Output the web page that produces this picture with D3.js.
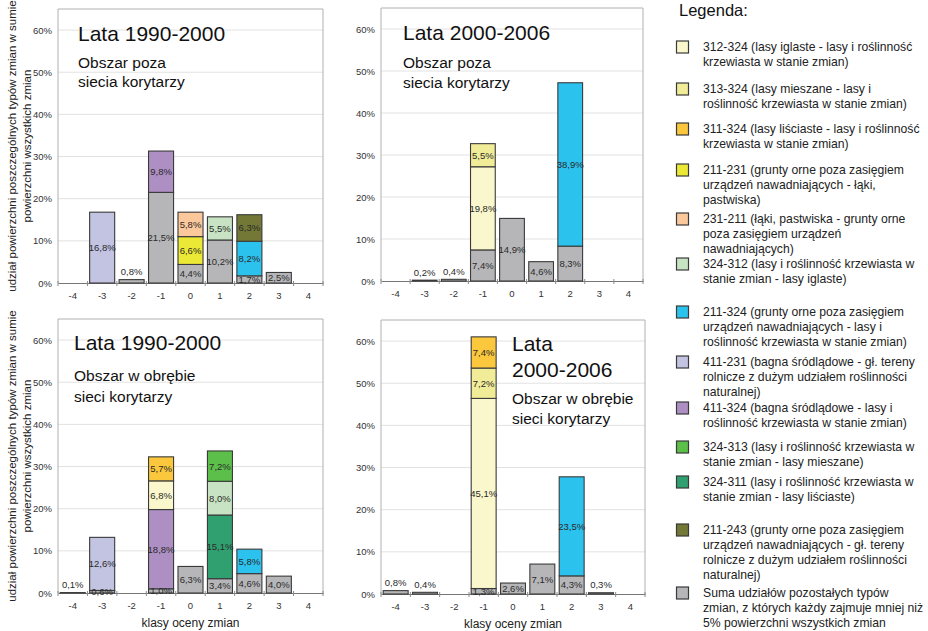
<!DOCTYPE html>
<html>
<head>
<meta charset="utf-8">
<script src="https://cdn.jsdelivr.net/npm/d3@7"></script>
<style>
  body { margin: 0; background: #fff; }
  svg { font-family: "Liberation Sans", Arial, sans-serif; display: block; }
</style>
</head>
<body>
<script>
const W = 928, H = 631;

// klasy oceny zmian
const classes = ["-4", "-3", "-2", "-1", "0", "1", "2", "3", "4"];
const yTicks = [0, 10, 20, 30, 40, 50, 60];

// typy zmian (kolejność legendy)
const seriesKeys = ["312-324", "313-324", "311-324", "211-231", "231-211", "324-312",
  "211-324", "411-231", "411-324", "324-313", "324-311", "211-243", "inne"];
const seriesColors = ["#faf7cc", "#f1ec98", "#fbc73c", "#ece836", "#fbc89c", "#c8e3c3",
  "#2cc2ee", "#c3c3e2", "#ae8fc4", "#5cbf4a", "#30a070", "#737836", "#b6b6b9"];
const legendLabels = [
  ["312-324  (lasy iglaste - lasy i roślinność", "krzewiasta w stanie zmian)"],
  ["313-324 (lasy mieszane - lasy i", "roślinność krzewiasta w stanie zmian)"],
  ["311-324 (lasy liściaste - lasy i roślinność", "krzewiasta w stanie zmian)"],
  ["211-231 (grunty orne poza zasięgiem", "urządzeń nawadniających - łąki,", "pastwiska)"],
  ["231-211 (łąki, pastwiska - grunty orne", "poza zasięgiem urządzeń", "nawadniających)"],
  ["324-312 (lasy i roślinność krzewiasta w", "stanie zmian - lasy iglaste)"],
  ["211-324 (grunty orne poza zasięgiem", "urządzeń nawadniających - lasy i", "roślinność krzewiasta w stanie zmian)"],
  ["411-231 (bagna śródlądowe - gł. tereny", "rolnicze z dużym udziałem roślinności", "naturalnej)"],
  ["411-324 (bagna śródlądowe - lasy i", "roślinność krzewiasta w stanie zmian)"],
  ["324-313 (lasy i roślinność krzewiasta w", "stanie zmian - lasy mieszane)"],
  ["324-311 (lasy i roślinność krzewiasta w", "stanie zmian - lasy liściaste)"],
  ["211-243 (grunty orne poza zasięgiem", "urządzeń nawadniających - gł. tereny", "rolnicze z dużym udziałem roślinności", "naturalnej)"],
  ["Suma udziałów pozostałych typów", "zmian, z których każdy zajmuje mniej niż", "5% powierzchni wszystkich zmian"]
];

// [klasa, typ zmiany, udział %] - od dołu słupka
const poza1990 = [
  ["-3", "411-231", 16.8],
  ["-2", "inne", 0.8],
  ["-1", "inne", 21.5], ["-1", "411-324", 9.8],
  ["0", "inne", 4.4], ["0", "211-231", 6.6], ["0", "231-211", 5.8],
  ["1", "inne", 10.2], ["1", "324-312", 5.5],
  ["2", "inne", 1.7], ["2", "211-324", 8.2], ["2", "211-243", 6.3],
  ["3", "inne", 2.5]
];
const poza2000 = [
  ["-3", "inne", 0.2],
  ["-2", "inne", 0.4],
  ["-1", "inne", 7.4], ["-1", "312-324", 19.8], ["-1", "313-324", 5.5],
  ["0", "inne", 14.9],
  ["1", "inne", 4.6],
  ["2", "inne", 8.3], ["2", "211-324", 38.9]
];
const obreb1990 = [
  ["-4", "inne", 0.1],
  ["-3", "inne", 0.6], ["-3", "411-231", 12.6],
  ["-1", "inne", 1.0], ["-1", "411-324", 18.8], ["-1", "312-324", 6.8], ["-1", "311-324", 5.7],
  ["0", "inne", 6.3],
  ["1", "inne", 3.4], ["1", "324-311", 15.1], ["1", "324-312", 8.0], ["1", "324-313", 7.2],
  ["2", "inne", 4.6], ["2", "211-324", 5.8],
  ["3", "inne", 4.0]
];
const obreb2000 = [
  ["-4", "inne", 0.8],
  ["-3", "inne", 0.4],
  ["-1", "inne", 1.3], ["-1", "312-324", 45.1], ["-1", "313-324", 7.2], ["-1", "311-324", 7.4],
  ["0", "inne", 2.6],
  ["1", "inne", 7.1],
  ["2", "inne", 4.3], ["2", "211-324", 23.5],
  ["3", "inne", 0.3]
];

const color = d3.scaleOrdinal().domain(seriesKeys).range(seriesColors);
const fmt = v => v.toFixed(1).replace(".", ",") + "%";

const svg = d3.select("body").append("svg").attr("width", W).attr("height", H);

const panels = [
  { data: poza1990, x0: 58, x1: 323, y0: 9, y1: 283, title: ["Lata 1990-2000"], sub: ["Obszar poza", "siecia korytarzy"], tx: 78, ty: [33], sy: [62, 81], yTitle: true },
  { data: poza2000, x0: 381, x1: 643, y0: 8, y1: 281, title: ["Lata 2000-2006"], sub: ["Obszar poza", "siecia korytarzy"], tx: 403, ty: [32], sy: [62, 82] },
  { data: obreb1990, x0: 58, x1: 323, y0: 319, y1: 593, title: ["Lata 1990-2000"], sub: ["Obszar w obrębie", "sieci korytarzy"], tx: 74, ty: [342], sy: [375, 396], yTitle: true, xTitle: true },
  { data: obreb2000, x0: 381, x1: 645, y0: 320, y1: 594, title: ["Lata", "2000-2006"], sub: ["Obszar w obrębie", "sieci korytarzy"], tx: 512, ty: [343, 369], sy: [398, 418], xTitle: true }
];

panels.forEach(p => {
  const x = d3.scaleBand().domain(classes).range([p.x0, p.x1]).paddingInner(0.15).paddingOuter(0.075);
  const y = d3.scaleLinear().domain([0, 65]).range([p.y1, p.y0]);
  const g = svg.append("g");

  // siatka
  g.selectAll("line.grid").data(yTicks.filter(t => t > 0)).enter().append("line")
    .attr("x1", p.x0).attr("x2", p.x1)
    .attr("y1", d => y(d)).attr("y2", d => y(d))
    .attr("stroke", "#e2e2e2").attr("stroke-width", 1);

  // ramka
  g.append("path")
    .attr("d", `M${p.x0},${p.y1}V${p.y0}H${p.x1}V${p.y1}`)
    .attr("fill", "none").attr("stroke", "#b0b0b0").attr("stroke-width", 1);

  // oś Y
  const yAxis = d3.axisLeft(y).tickValues(yTicks).tickSize(0).tickPadding(6).tickFormat(d => d + "%");
  const ya = g.append("g").attr("transform", `translate(${p.x0},0)`).call(yAxis);
  ya.select(".domain").remove();
  ya.selectAll("text").attr("font-size", 9.5).attr("fill", "#333").attr("font-family", "Liberation Sans, Arial, sans-serif");

  // oś X
  const xAxis = d3.axisBottom(x).tickSize(0).tickPadding(9);
  const xa = g.append("g").attr("transform", `translate(0,${p.y1})`).call(xAxis);
  xa.select(".domain").attr("stroke", "#777");
  xa.selectAll("text").attr("font-size", 9.5).attr("fill", "#333").attr("font-family", "Liberation Sans, Arial, sans-serif");
  const bounds = classes.map(c => x(c) - x.step() * x.paddingInner() / 2).concat([p.x1]);
  g.selectAll("line.xt").data(bounds).enter().append("line")
    .attr("x1", d => d).attr("x2", d => d)
    .attr("y1", p.y1 - 2).attr("y2", p.y1 + 3)
    .attr("stroke", "#888");

  // słupki skumulowane
  const acc = {};
  const segs = p.data.map(([c, k, v]) => {
    const base = acc[c] || 0;
    acc[c] = base + v;
    return { c, k, v, base };
  });
  const single = c => p.data.filter(r => r[0] === c).length === 1;

  g.selectAll("rect.seg").data(segs).enter().append("rect")
    .attr("x", d => x(d.c))
    .attr("width", x.bandwidth())
    .attr("y", d => y(d.base + d.v))
    .attr("height", d => y(d.base) - y(d.base + d.v))
    .attr("fill", d => color(d.k))
    .attr("stroke", "#3a3a3a").attr("stroke-width", 1.1);

  g.selectAll("text.val").data(segs).enter().append("text")
    .attr("x", d => x(d.c) + x.bandwidth() / 2)
    .attr("y", d => (d.v < 1 && single(d.c)) ? y(d.v) - 8 : y(d.base + d.v / 2))
    .attr("text-anchor", "middle").attr("dominant-baseline", "central")
    .attr("font-size", 9.5).attr("fill", "#2a2a2a")
    .text(d => fmt(d.v));

  // tytuły
  g.selectAll("text.title").data(p.title).enter().append("text")
    .attr("x", p.tx).attr("y", (d, i) => p.ty[i])
    .attr("dominant-baseline", "central")
    .attr("font-size", 21).attr("fill", "#111").text(d => d);
  g.selectAll("text.sub").data(p.sub).enter().append("text")
    .attr("x", p.tx).attr("y", (d, i) => p.sy[i])
    .attr("dominant-baseline", "central")
    .attr("font-size", 15.5).attr("fill", "#111").text(d => d);

  if (p.yTitle) {
    const cy = (p.y0 + p.y1) / 2;
    ["udział powierzchni poszczególnych typów zmian w sumie", "powierzchni wszystkich zmian"].forEach((t, i) => {
      g.append("text")
        .attr("transform", `translate(${12 + i * 15},${cy}) rotate(-90)`)
        .attr("text-anchor", "middle").attr("dominant-baseline", "central")
        .attr("font-size", 11.5).attr("fill", "#222").text(t);
    });
  }
  if (p.xTitle) {
    g.append("text")
      .attr("x", (p.x0 + p.x1) / 2).attr("y", p.y1 + 30)
      .attr("text-anchor", "middle").attr("dominant-baseline", "central")
      .attr("font-size", 12).attr("fill", "#222").text("klasy oceny zmian");
  }
});

// legenda
const legendY = [47, 89, 129, 170, 219, 264, 312, 362, 408, 447, 482, 530, 593];
const lineH = 15;
const lg = svg.append("g");
lg.append("text").attr("x", 679).attr("y", 10).attr("dominant-baseline", "central")
  .attr("font-size", 16.5).attr("fill", "#111").text("Legenda:");

const items = lg.selectAll("g.item").data(seriesKeys).enter().append("g")
  .attr("transform", (d, i) => `translate(0,${legendY[i]})`);
items.append("rect")
  .attr("x", 676.5).attr("y", -6).attr("width", 12).attr("height", 12)
  .attr("fill", d => color(d)).attr("stroke", "#3a3a3a").attr("stroke-width", 1.2);
items.each(function (d, i) {
  d3.select(this).selectAll("text").data(legendLabels[i]).enter().append("text")
    .attr("x", 703).attr("y", (t, j) => j * lineH)
    .attr("dominant-baseline", "central")
    .attr("font-size", 12.2).attr("fill", "#222").text(t => t);
});
</script>
</body>
</html>
